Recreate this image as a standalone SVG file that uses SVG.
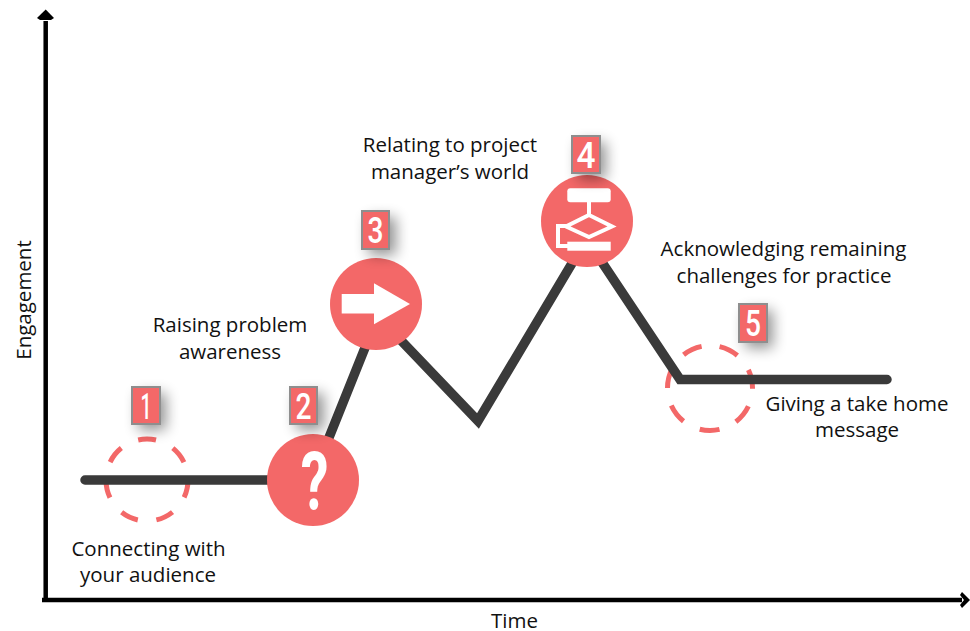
<svg xmlns="http://www.w3.org/2000/svg" width="970" height="631" viewBox="0 0 970 631">
<defs>
<filter id="sh" x="-100%" y="-100%" width="300%" height="300%"><feGaussianBlur stdDeviation="7"/></filter>
</defs>
<style>
.t{font-family:"Open Sans","Noto Sans",sans-serif;font-size:20.500px;fill:#111;text-anchor:middle}
.c{fill:#f36868}
.d{fill:none;stroke:#f36868;stroke-width:5}
.b{fill:#f36868;stroke:#8e8e8e;stroke-width:2}
.s{fill:#000;opacity:.42;filter:url(#sh)}
.n{font-family:Roboto,"Liberation Sans",sans-serif;font-weight:500;font-size:36px;fill:#fff;text-anchor:middle}
.w{fill:#fff}
</style>
<rect width="970" height="631" fill="#fff"/>
<g id="axes">
<path d="M45.700 21V600H42M42 600H962" fill="none" stroke="#000" stroke-width="4.500"/>
<polygon points="45.700,9.500 54,18 51,20 40,20 37,18"/>
<polygon points="970,600 962,608 960,605 964,600 960,595 962,592"/>
</g>
<g id="dashed-1"><circle class="d" cx="147" cy="480" r="41" stroke-dasharray="18 18.800"/></g>
<g id="dashed-5"><circle class="d" cx="710" cy="388" r="42.500" stroke-dasharray="20 18.150" stroke-dashoffset="-18.900"/></g>
<g id="connectors">
<polyline points="85,480 312,480 377.700,316 478,421 586.500,239 680,379.500 887,379.500" fill="none" stroke="#3a3a3a" stroke-width="9.500" stroke-linecap="round" stroke-linejoin="miter"/>
</g>
<g id="node-1">
<rect class="s" x="138" y="393" width="28" height="37"/>
<rect class="b" x="132" y="387" width="28" height="37"/>
<text class="n" x="146" y="419" textLength="11" lengthAdjust="spacingAndGlyphs">1</text>
<text class="t" x="148.500" y="556">Connecting with</text>
<text class="t" x="148" y="582">your audience</text>
</g>
<g id="node-2">
<circle class="c" cx="313" cy="480" r="46"/>
<text x="0" y="0" transform="translate(314.500,510) scale(.68,1)" font-family="Roboto,'Liberation Sans',sans-serif" font-weight="700" font-size="82" fill="#fff" text-anchor="middle">?</text>
<rect class="s" x="296" y="393" width="28" height="37"/>
<rect class="b" x="290" y="387" width="27" height="37"/>
<text class="n" x="303.500" y="419" textLength="16" lengthAdjust="spacingAndGlyphs">2</text>
<text class="t" x="230" y="332">Raising problem</text>
<text class="t" x="230" y="359">awareness</text>
</g>
<g id="node-3">
<circle class="c" cx="376" cy="304" r="46"/>
<rect class="w" x="341.700" y="294" width="33" height="19.500"/>
<polygon class="w" points="374,283.300 410,304 374,324.300"/>
<rect class="s" x="368" y="217" width="28" height="38"/>
<rect class="b" x="362" y="211" width="27" height="38"/>
<text class="n" x="375.500" y="243" textLength="16" lengthAdjust="spacingAndGlyphs">3</text>
</g>
<g id="node-4">
<circle class="c" cx="587" cy="221" r="46"/>
<rect class="w" x="567.300" y="188.300" width="43.400" height="14" rx="3"/>
<path d="M589 202V215M589 215L612 226.500L589 237L566 226.500ZM570 226H558V246H568" fill="none" stroke="#fff" stroke-width="4"/>
<rect class="w" x="567.300" y="241.700" width="43.400" height="9"/>
<rect class="s" x="578" y="142" width="28" height="37"/>
<rect class="b" x="572" y="136" width="28" height="37"/>
<text class="n" x="586" y="168" textLength="19" lengthAdjust="spacingAndGlyphs">4</text>
<text class="t" x="450" y="152">Relating to project</text>
<text class="t" x="450" y="179">manager’s world</text>
</g>
<g id="node-5">
<rect class="s" x="745" y="310" width="28" height="38"/>
<rect class="b" x="739" y="304" width="28" height="38"/>
<text class="n" x="753" y="336" textLength="16" lengthAdjust="spacingAndGlyphs">5</text>
<text class="t" x="783.500" y="256">Acknowledging remaining</text>
<text class="t" x="784" y="283">challenges for practice</text>
<text class="t" x="857" y="411">Giving a take home</text>
<text class="t" x="857" y="437">message</text>
</g>
<g id="axis-labels">
<text class="t" x="514.500" y="628">Time</text>
<text class="t" transform="translate(31,300) rotate(-90)">Engagement</text>
</g>
</svg>
